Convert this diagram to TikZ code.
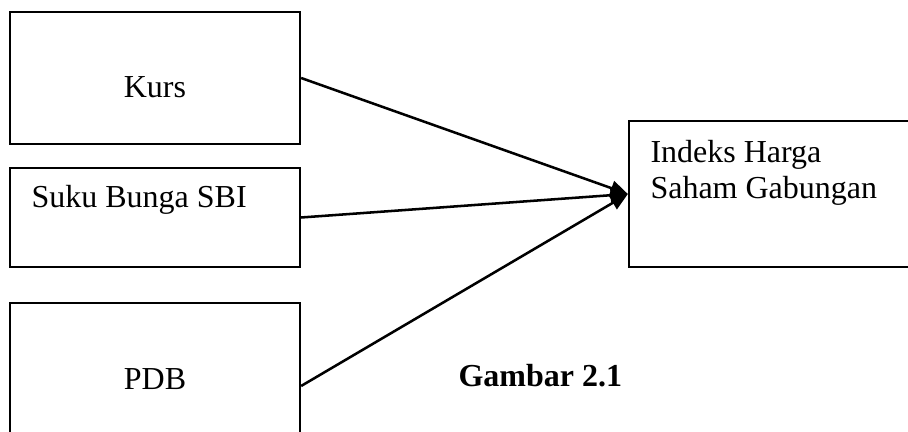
\documentclass[tikz,border=0pt]{standalone}
\usepackage{fontspec}
\setmainfont{Liberation Serif}
\usetikzlibrary{arrows.meta}
\begin{document}
\begin{tikzpicture}[x=0.375pt, y=-0.375pt,
    box/.style={rectangle, draw, line width=0.85pt, inner sep=0pt},
    lbl/.style={inner sep=0pt, font=\fontsize{12}{13.8}\selectfont},
    link/.style={-{Triangle[length=6.5pt, width=5.6pt]}, line width=0.95pt}]
    \useasboundingbox (0,0) rectangle (908,432);
    \clip (0,0) rectangle (908,432);

    % Boxes
    \node[box, minimum width=108.75pt, minimum height=49.5pt]   at (155, 78)    (kurs)   {};
    \node[box, minimum width=108.75pt, minimum height=37.125pt] at (155, 217.5) (suku)   {};
    \node[box, minimum width=108.75pt, minimum height=62.25pt]  at (155, 386)   (pdb)    {};
    \node[box, minimum width=139.125pt, minimum height=54.75pt] at (814.5, 194) (indeks) {};

    % Texts
    \node[lbl, anchor=base]      at (155, 98)  (kursText)   {Kurs};
    \node[lbl, anchor=base west] at (31, 208)  (sukuText)   {Suku Bunga SBI};
    \node[lbl, anchor=base]      at (155, 390) (pdbText)    {PDB};
    \node[lbl, anchor=base west, align=left] at (650, 199) (indeksText) {Indeks Harga\\Saham Gabungan};
    \node[lbl, anchor=base west, font=\fontsize{12}{13.8}\selectfont\bfseries] at (458, 387) (caption) {Gambar 2.1};

    % Links
    \draw[link] (kurs.east) -- (indeks.west);
    \draw[link] (suku.east) -- (indeks.west);
    \draw[link] (pdb.east)  -- (indeks.west);
\end{tikzpicture}
\end{document}
